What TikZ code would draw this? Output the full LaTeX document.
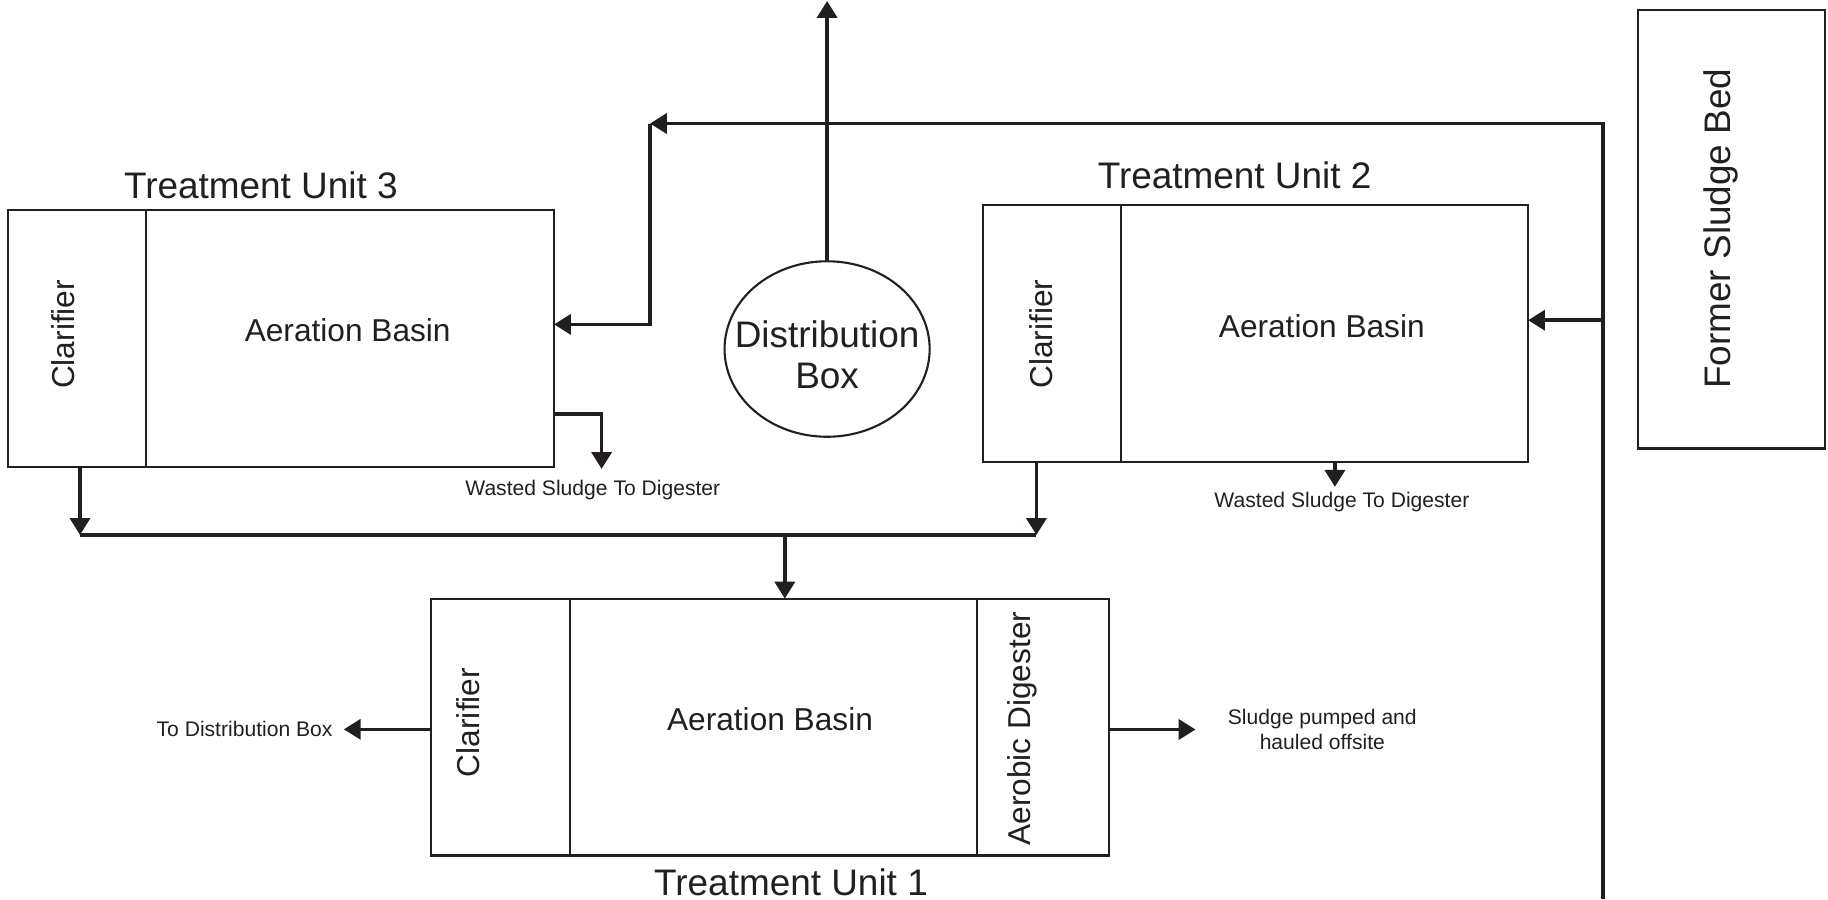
\documentclass[tikz,border=0pt]{standalone}
\usepackage{fontspec}
\setmainfont{Liberation Sans}
\usetikzlibrary{positioning,shapes.geometric,arrows.meta}
\definecolor{ink}{HTML}{231F20}
\tikzset{
  part/.style={draw=ink, line width=0.6pt, inner sep=0pt, outer sep=0pt, minimum height=2.567cm},
  flow/.style={draw=ink, line width=1pt, -{Triangle[length=4.8pt,width=5.7pt]}},
  pipe/.style={draw=ink, line width=0.9pt},
  unitlabel/.style={font=\fontsize{10.5}{11.6}\selectfont, text=ink},
  partlabel/.style={font=\fontsize{9}{11}\selectfont, text=ink},
  note/.style={font=\fontsize{6}{7}\selectfont, text=ink, inner sep=3pt},
}

\begin{document}
\begin{tikzpicture}[x=0.01cm, y=-0.01cm]
    \useasboundingbox (0,0) rectangle (1828,899);

    % Unidad 3
    \node[part, minimum width=1.381cm] (clar3) at (77.25,338.85) {};
    \node[part, minimum width=4.075cm, right=0pt of clar3] (basin3) {};
    \node[unitlabel] (t3) at (260.9,185.5) {Treatment Unit 3};
    \node[partlabel] (ab3) at (347.7,330.6) {Aeration Basin};
    \node[partlabel, rotate=90] (cl3) at (62.7,334.4) {Clarifier};

    % Unidad 2
    \node[part, minimum width=1.381cm] (clar2) at (1051.85,333.55) {};
    \node[part, minimum width=4.069cm, right=0pt of clar2] (basin2) {};
    \node[unitlabel] (t2) at (1234.6,175.2) {Treatment Unit 2};
    \node[partlabel] (ab2) at (1321.8,326) {Aeration Basin};
    \node[partlabel, rotate=90] (cl2) at (1040.8,334.1) {Clarifier};

    % Unidad 1
    \node[part, minimum width=1.383cm] (clar1) at (500.45,727) {};
    \node[part, minimum width=4.072cm, right=0pt of clar1] (basin1) {};
    \node[part, minimum width=1.321cm, right=0pt of basin1] (dig1) {};
    \node[unitlabel] (t1) at (791,882.2) {Treatment Unit 1};
    \node[partlabel] (ab1) at (770,719.5) {Aeration Basin};
    \node[partlabel, rotate=90] (cl1) at (468.3,722.5) {Clarifier};
    \node[partlabel, rotate=90] (ad1) at (1022,728.7) {Aerobic Digester};

    % Lecho de lodos y caja de distribucion
    \node[part, minimum width=1.865cm, minimum height=4.385cm] (bed) at (1731.25,229.05) {};
    \node[unitlabel, rotate=90] (bedlabel) at (1721,228.7) {Former Sludge Bed};
    \node[ellipse, draw=ink, line width=0.6pt, minimum width=2.05cm, minimum height=1.754cm, inner sep=0pt] (dbox) at (827.1,349) {};
    \node[unitlabel, align=center] (dboxlabel) at (827.1,354.5) {Distribution\\Box};

    % Etiquetas de salida
    \node[note] (waste3) at (592.8,490) {Wasted Sludge To Digester};
    \node[note] (waste2) at (1341.9,501.6) {Wasted Sludge To Digester};
    \node[note] (todb) at (244.6,729.3) {To Distribution Box};
    \node[note, align=center, inner xsep=9pt] (haul) at (1322.3,729.5) {Sludge pumped and\\hauled offsite};

    % Puntos de las tuberias
    \coordinate (up) at (827.1,1);
    \coordinate (rb) at (1603,899);
    \coordinate (rt) at (1603,123.5);
    \coordinate (rl) at (650,123.5);
    \coordinate (j3) at (650,324.4);
    \coordinate (j2) at (1603,320.2);
    \coordinate (w3) at (601.6,413.9);
    \coordinate (w2) at (1334.9,486.8);
    \coordinate (h3) at (80,534.9);
    \coordinate (h2) at (1036.4,534.9);
    \coordinate (h1) at (784.8,534.9);

    % Retorno y alimentacion
    \draw[flow] (dbox.north) -- (up);
    \draw[flow] (rb) -- (rt) -- (rl);
    \draw[flow] (rl) -- (j3) -- (j3 -| basin3.east);
    \draw[flow] (j2) -- (j2 -| basin2.east);

    % Lodos de purga
    \draw[flow] (w3 -| basin3.east) -- (w3) -- (w3 |- waste3.north);
    \draw[flow] (w2 |- basin2.south) -- (w2);

    % Colector de clarificadores
    \foreach \c/\h in {clar3/h3, clar2/h2} {
        \draw[flow] (\h |- \c.south) -- (\h);
    }
    \draw[pipe] (h3) -- (h2);
    \draw[flow] (h1) -- (h1 |- basin1.north);

    % Salidas de la unidad 1
    \draw[flow] (clar1.west |- todb) -- (todb.east);
    \draw[flow] (dig1.east |- haul) -- (haul.west);
\end{tikzpicture}
\end{document}
